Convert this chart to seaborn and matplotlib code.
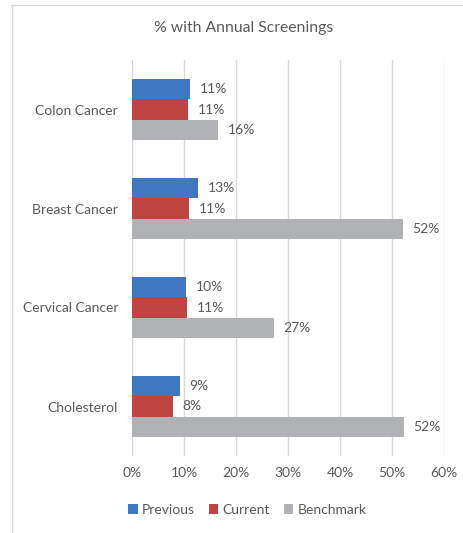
import pandas as pd
import matplotlib
matplotlib.use("Agg")
import matplotlib.pyplot as plt
import seaborn as sns

# data (percent)
tests = ["Colon Cancer", "Breast Cancer", "Cervical Cancer", "Cholesterol"]
previous = [11.2, 12.7, 10.4, 9.2]
current = [10.8, 11.0, 10.6, 7.9]
benchmark = [16.5, 52.1, 27.3, 52.3]
series = ["Previous", "Current", "Benchmark"]
ticks = [0, 10, 20, 30, 40, 50, 60]

df = pd.DataFrame({
    "test": tests * 3,
    "series": ["Previous"] * 4 + ["Current"] * 4 + ["Benchmark"] * 4,
    "value": previous + current + benchmark,
})

sns.set_style("white")
plt.rcParams["font.family"] = ["Lato", "DejaVu Sans"]
txt = "#595959"
fs = 10

fig = plt.figure(figsize=(4.63, 5.33), dpi=100)
ax = fig.add_axes([132 / 463, 1 - 456 / 533, 312 / 463, 396 / 533])

ax = sns.barplot(data=df, x="value", y="test", hue="series", hue_order=series,
                 orient="h", palette=["#3F77C0", "#BF4542", "#B1B2B5"],
                 saturation=1, width=0.62, linewidth=0, ax=ax, errorbar=None)

for cont in ax.containers:
    ax.bar_label(cont, labels=[f"{v:.0f}%" for v in cont.datavalues],
                 padding=7, fontsize=fs, color=txt)

ax.set_xlim(0, 60)
ax.set_xticks(ticks)
ax.set_xticklabels([f"{t}%" for t in ticks])
ax.set_xlabel("")
ax.set_ylabel("")
ax.tick_params(axis="both", length=0, labelsize=fs, labelcolor=txt)
ax.tick_params(axis="y", pad=10)
ax.tick_params(axis="x", pad=8)
ax.xaxis.grid(True, color="#D9D9D9", linewidth=1)
ax.set_axisbelow(True)
for s in ax.spines.values():
    s.set_visible(False)

handles, labels = ax.get_legend_handles_labels()
ax.legend_.remove()
fig.legend(handles, labels, loc="center", bbox_to_anchor=(0.534, 1 - 510 / 533),
           ncol=3, frameon=False, handlelength=0.7, handleheight=0.7,
           handletextpad=0.3, columnspacing=1.0, fontsize=fs, labelcolor=txt)

fig.text(0.527, 1 - 28 / 533, "% with Annual Screenings", ha="center", va="center",
         fontsize=11.3, color=txt)

# chart frame (top and left edges only show)
fig.add_artist(plt.Line2D([11 / 463, 1], [1 - 4.5 / 533, 1 - 4.5 / 533],
                          transform=fig.transFigure, color="#D9D9D9", linewidth=1))
fig.add_artist(plt.Line2D([11.5 / 463, 11.5 / 463], [0, 1 - 4.5 / 533],
                          transform=fig.transFigure, color="#D9D9D9", linewidth=1))

fig.savefig("out.png", dpi=100)
